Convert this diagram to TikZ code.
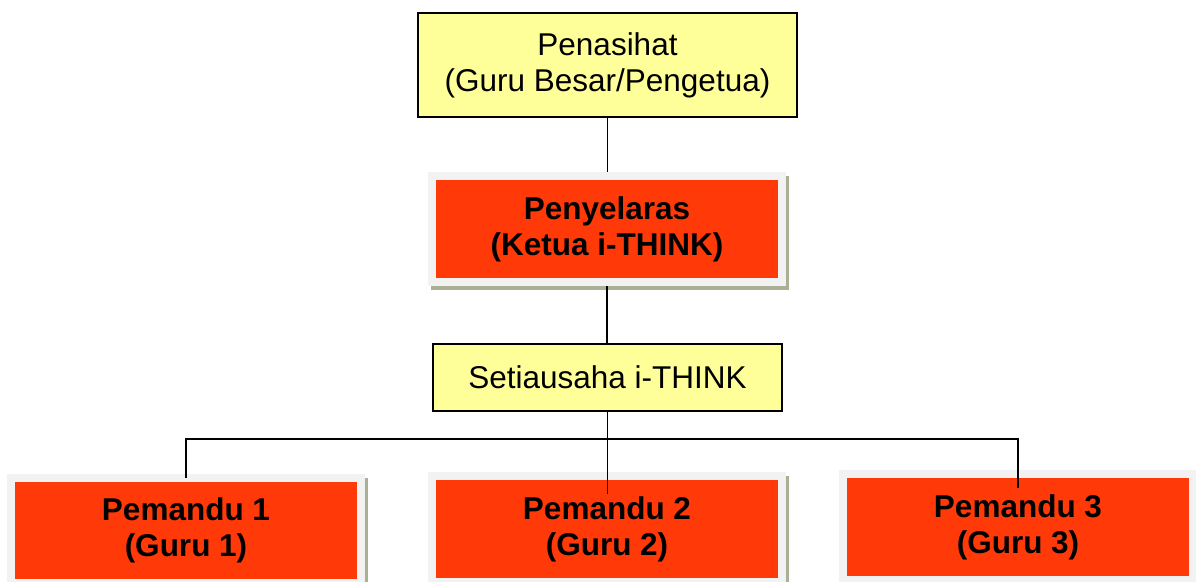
\documentclass[tikz,border=0pt]{standalone}
\usepackage{fontspec}
\setmainfont{Liberation Sans}
\usetikzlibrary{calc,backgrounds}
\definecolor{boxred}{HTML}{FF3A08}
\definecolor{boxyellow}{HTML}{FFFF99}
\definecolor{framegray}{HTML}{F2F2F2}
\definecolor{shadowc}{HTML}{A9B094}
\tikzset{
  yellowbox/.style={draw=black, line width=2pt, fill=boxyellow, align=center,
    font=\fontsize{31.5}{36}\selectfont, inner sep=0pt},
  redbox/.style={draw=framegray, line width=8pt, fill=boxred, align=center,
    font=\fontsize{31.5}{36}\selectfont\bfseries, inner sep=0pt,
    minimum width=350pt, minimum height=106pt},
  link/.style={draw=black, line width=1.7pt},
  shadowfill/.style={fill=shadowc}
}
\begin{document}
\begin{tikzpicture}[x=1pt,y=-1pt]
\useasboundingbox (0,0) rectangle (1196,581);
\clip (0,0) rectangle (1196,581);
\node[yellowbox, minimum width=379pt, minimum height=104pt] (pen) at (607.5,65)
  {Penasihat\\(Guru Besar/Pengetua)};
\node[redbox] (pny) at (607,229) {Penyelaras\\(Ketua i-THINK)};
\node[yellowbox, minimum width=349pt, minimum height=67pt] (set) at (607.5,377.5)
  {Setiausaha i-THINK};
\node[redbox, minimum height=105pt] (p1) at (186,530.5) {Pemandu 1\\(Guru 1)};
\node[redbox] (p2) at (607,529) {Pemandu 2\\(Guru 2)};
\node[redbox] (p3) at (1018,527) {Pemandu 3\\(Guru 3)};
\begin{scope}[on background layer]
  \fill[white] (0,0) rectangle (1196,581);
  \foreach \n in {pny,p1,p2,p3}
    \fill[shadowfill] ($(\n.north west)+(3,4)$) rectangle ($(\n.south east)+(3,4)$);
\end{scope}
\coordinate (bus) at (607.5,439);
\coordinate (e1) at ($(p1.north)+(0,4)$);
\coordinate (e2) at ($(p2.north)+(0,22)$);
\coordinate (e3) at ($(p3.north)+(0,18)$);
\draw[link] (pen.south) -- (pen.south |- pny.north);
\draw[link] (pny.south) -- (pny.south |- set.north);
\draw[link] (set.south) -- (set.south |- e2);
\draw[link] (e1) -- (e1 |- bus) -- (e3 |- bus) -- (e3);
\end{tikzpicture}
\end{document}
